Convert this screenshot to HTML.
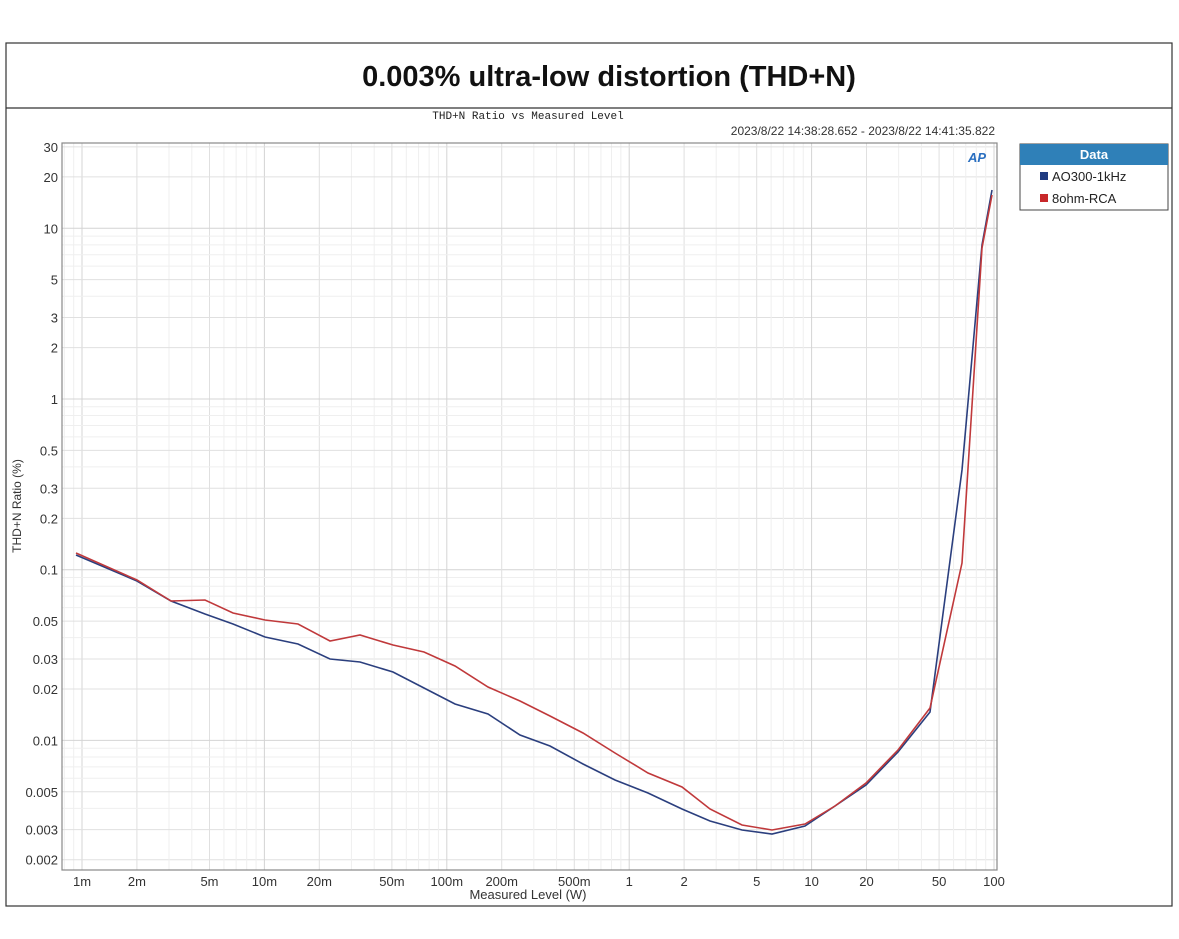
<!DOCTYPE html>
<html><head><meta charset="utf-8"><style>
body{margin:0;background:#fff;}
svg{display:block;font-family:"Liberation Sans",sans-serif;}
</style></head><body>
<svg width="1179" height="939" viewBox="0 0 1179 939" xmlns="http://www.w3.org/2000/svg">
<rect x="6" y="43" width="1166" height="863" fill="#fff" stroke="#333" stroke-width="1.2"/>
<line x1="6" y1="108" x2="1172" y2="108" stroke="#333" stroke-width="1.2"/>
<text x="609" y="86" text-anchor="middle" font-size="29" font-weight="bold" fill="#111">0.003% ultra-low distortion (THD+N)</text>
<text x="528" y="119" text-anchor="middle" font-size="11" font-family="Liberation Mono,monospace" fill="#222">THD+N Ratio vs Measured Level</text>
<text x="995" y="135" text-anchor="end" font-size="12" fill="#333">2023/8/22 14:38:28.652 -   2023/8/22 14:41:35.822</text>
<g id="grid"></g>
<rect x="62" y="143" width="935" height="727" fill="none" stroke="#888" stroke-width="1.2"/>
<text x="968" y="162" font-size="13" font-style="italic" font-weight="bold" fill="#2a6fc0">AP</text>
<g id="labels" font-size="13" fill="#333"></g>
<text x="528" y="899" text-anchor="middle" font-size="13" fill="#333">Measured Level (W)</text>
<text transform="translate(21,506) rotate(-90)" text-anchor="middle" font-size="12" fill="#333">THD+N Ratio (%)</text>
<polyline fill="none" stroke="#2b3f7e" stroke-width="1.6" points="76,555 137,581 171,601 205,614 233,624 265,637 298,644 330,659 360,662 393,672 424,688 455,704 488,714 520,735 550,746 583,764 615,780 648,793 682,809 710,821 742,830 772,834 805,826 835,806 866,785 898,752 930,712 962,470 982,245 992,190"/>
<polyline fill="none" stroke="#c0393b" stroke-width="1.6" points="76,553 137,580 171,601 205,600 233,613 265,620 298,624 330,641 360,635 393,645 424,652 455,666 488,687 520,701 550,716 583,733 615,753 648,773 682,787 710,809 742,825 772,830 805,824 835,806 866,783 898,750 930,708 962,563 982,248 992,195"/>
<rect x="1020" y="144" width="148" height="66" fill="#fff" stroke="#444"/>
<rect x="1020" y="144" width="148" height="21" fill="#2f80b8"/>
<text x="1094" y="159" text-anchor="middle" font-size="13" font-weight="bold" fill="#fff">Data</text>
<rect x="1040" y="172" width="8" height="8" fill="#1f3a80"/>
<text x="1052" y="181" font-size="13" fill="#222">AO300-1kHz</text>
<rect x="1040" y="194" width="8" height="8" fill="#c8282a"/>
<text x="1052" y="203" font-size="13" fill="#222">8ohm-RCA</text>
</svg>
<script>
var ns="http://www.w3.org/2000/svg",g=document.getElementById("grid"),L=document.getElementById("labels");
function X(v){return 82+182.4*Math.log10(v/0.001);}
function Y(v){return 228.3-170.7*Math.log10(v/10);}
function ln(x1,y1,x2,y2,c){var l=document.createElementNS(ns,"line");l.setAttribute("x1",x1);l.setAttribute("y1",y1);l.setAttribute("x2",x2);l.setAttribute("y2",y2);l.setAttribute("stroke",c);l.setAttribute("stroke-width","1");g.appendChild(l);}
function tx(x,y,s,a){var t=document.createElementNS(ns,"text");t.setAttribute("x",x);t.setAttribute("y",y);t.setAttribute("text-anchor",a);t.textContent=s;L.appendChild(t);}
for(var d=-4;d<=2;d++)for(var m=1;m<10;m++){var v=m*Math.pow(10,d);var x=X(v);if(x>62&&x<997)ln(x,143,x,870,m==1?"#d4d4d4":(m==2||m==5?"#e0e0e0":"#efefef"));var y=Y(v);if(y>143&&y<870)ln(62,y,997,y,m==1?"#d4d4d4":(m==2||m==5||m==3?"#e0e0e0":"#efefef"));}
[["1m",.001],["2m",.002],["5m",.005],["10m",.01],["20m",.02],["50m",.05],["100m",.1],["200m",.2],["500m",.5],["1",1],["2",2],["5",5],["10",10],["20",20],["50",50],["100",100]].forEach(function(a){tx(X(a[1]),886,a[0],"middle");});
[["30",30],["20",20],["10",10],["5",5],["3",3],["2",2],["1",1],["0.5",.5],["0.3",.3],["0.2",.2],["0.1",.1],["0.05",.05],["0.03",.03],["0.02",.02],["0.01",.01],["0.005",.005],["0.003",.003],["0.002",.002]].forEach(function(a){tx(58,Y(a[1])+5,a[0],"end");});
</script>
</body></html>
